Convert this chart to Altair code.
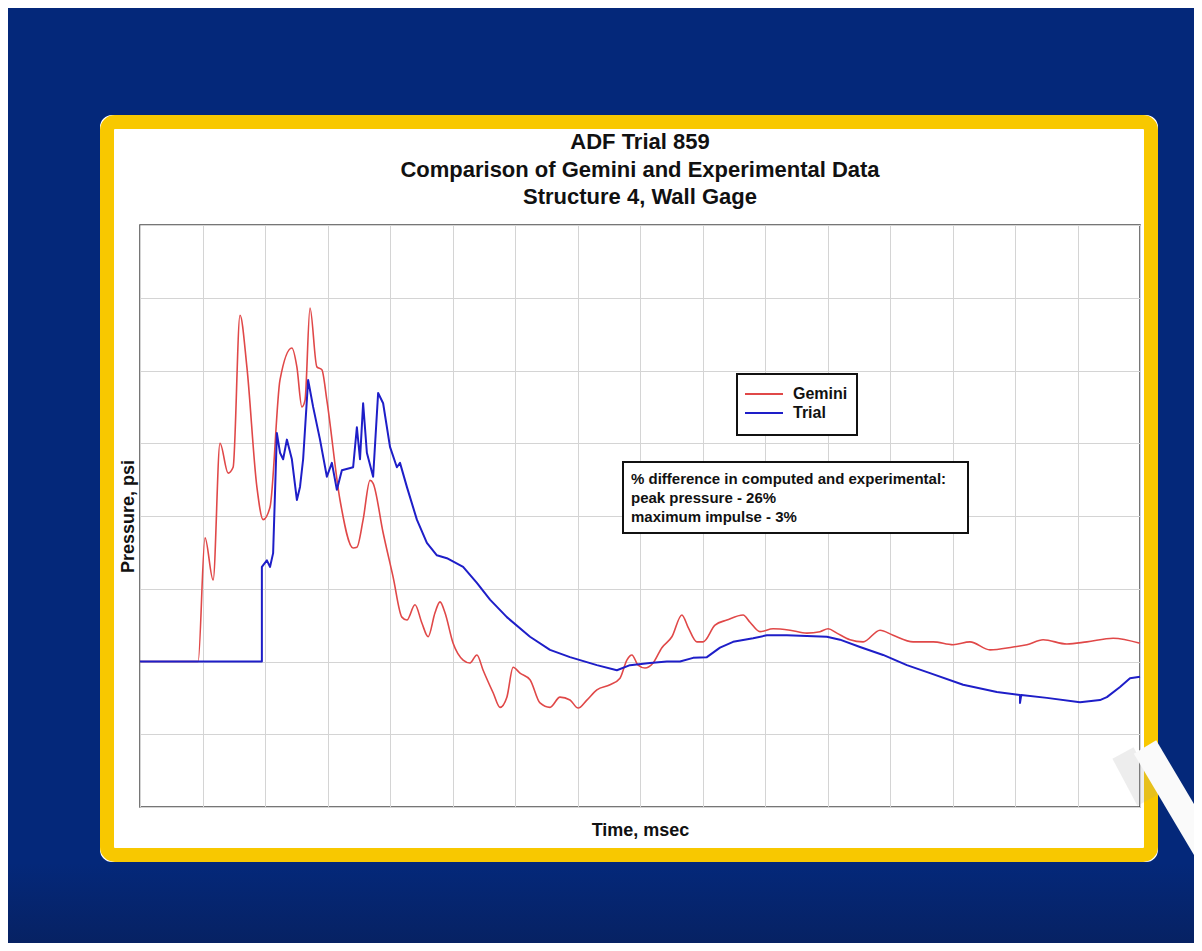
import altair as alt
import pandas as pd

# ---------------- data ----------------
gemini_t = [0, 0.93, 1.04, 1.17, 1.28, 1.41, 1.49, 1.6, 1.71, 1.87, 1.97, 2.08, 2.24, 2.43, 2.51,
            2.59, 2.64, 2.72, 2.83, 2.91, 2.99, 3.2, 3.41, 3.47, 3.57, 3.68, 3.73, 3.89, 4.05, 4.19,
            4.27, 4.4, 4.51, 4.61, 4.72, 4.8, 4.88, 5.01, 5.17, 5.28, 5.39, 5.49, 5.65, 5.76, 5.87,
            5.97, 6.08, 6.24, 6.4, 6.56, 6.72, 6.88, 7.01, 7.15, 7.31, 7.52, 7.68, 7.79, 7.87, 7.97,
            8.08, 8.21, 8.35, 8.51, 8.67, 8.77, 8.91, 9.01, 9.2, 9.39, 9.65, 9.76, 9.92, 10.13, 10.4,
            10.67, 10.88, 11.01, 11.15, 11.36, 11.57, 11.84, 12.05, 12.37, 12.69, 13.01, 13.28, 13.6,
            13.97, 14.19, 14.45, 14.83, 15.15, 15.57, 16]
gemini_p = [0, 0, 1.70, 1.12, 3.00, 2.59, 2.67, 4.76, 4.05, 2.40, 1.95, 2.12, 3.87, 4.31, 4.05,
            3.50, 3.59, 4.86, 4.05, 4.01, 3.59, 2.22, 1.56, 1.57, 1.95, 2.49, 2.45, 1.77, 1.16, 0.61,
            0.57, 0.78, 0.53, 0.34, 0.67, 0.82, 0.67, 0.25, 0.02, -0.02, 0.09, -0.12, -0.43, -0.63, -0.49,
            -0.08, -0.16, -0.25, -0.57, -0.63, -0.49, -0.53, -0.64, -0.53, -0.39, -0.32, -0.23, 0.02, 0.09, -0.05,
            -0.09, -0.02, 0.19, 0.34, 0.64, 0.47, 0.27, 0.27, 0.50, 0.57, 0.64, 0.54, 0.41, 0.45, 0.43,
            0.39, 0.41, 0.45, 0.39, 0.30, 0.27, 0.43, 0.36, 0.27, 0.27, 0.23, 0.27, 0.16,
            0.20, 0.23, 0.30, 0.24, 0.27, 0.32, 0.25]

trial_t = [0, 1.95, 1.95, 2.03, 2.08, 2.13, 2.19, 2.24, 2.29, 2.35, 2.43, 2.51, 2.56, 2.61, 2.69,
           2.77, 2.88, 2.99, 3.07, 3.15, 3.23, 3.41, 3.47, 3.52, 3.57, 3.63, 3.73, 3.81, 3.89, 4.0,
           4.11, 4.16, 4.27, 4.43, 4.59, 4.75, 4.91, 5.17, 5.39, 5.6, 5.87, 6.24, 6.56, 6.88, 7.31,
           7.63, 7.84, 8.16, 8.43, 8.64, 8.85, 9.07, 9.28, 9.49, 9.81, 10.03, 10.35, 10.67, 10.99, 11.2,
           11.52, 11.89, 12.27, 12.64, 13.17, 13.71, 14.08, 14.08, 14.1, 14.51, 15.04, 15.36, 15.47, 15.68,
           15.84, 16]
trial_p = [0, 0, 1.30, 1.39, 1.30, 1.49, 3.14, 2.87, 2.78, 3.05, 2.78, 2.22, 2.40, 2.78, 3.87,
           3.50, 3.05, 2.54, 2.73, 2.36, 2.63, 2.67, 3.22, 2.78, 3.55, 2.87, 2.54, 3.69, 3.55, 2.95,
           2.67, 2.73, 2.40, 1.95, 1.63, 1.46, 1.42, 1.30, 1.08, 0.85, 0.61, 0.34, 0.16, 0.06, -0.05,
           -0.12, -0.05, -0.02, 0, 0, 0.05, 0.06, 0.19, 0.27, 0.32, 0.36, 0.36, 0.35, 0.34, 0.30,
           0.20, 0.09, -0.05, -0.16, -0.32, -0.42, -0.46, -0.57, -0.46, -0.50, -0.56, -0.53, -0.49, -0.35,
           -0.23, -0.21]

series_names = ["Gemini", "Trial"]
series_colors = ["#e04848", "#1e1ec8"]
series_widths = [1.6, 2.0]

title_lines = ["ADF Trial 859", "Comparison of Gemini and Experimental Data", "Structure 4, Wall Gage"]
note_lines = ["% difference in computed and experimental:", "peak pressure - 26%", "maximum impulse - 3%"]
x_title = "Time, msec"
y_title = "Pressure, psi"
x_grid = list(range(0, 17))
y_grid = list(range(-2, 7))

# ---------------- layout ----------------
W, H = 1000, 582
FONT = "Liberation Sans"
NAVY = "#04287a"
YELLOW = "#f8c800"

gem_df = pd.DataFrame({"t": gemini_t, "p": gemini_p, "i": range(len(gemini_t))})
tri_df = pd.DataFrame({"t": trial_t, "p": trial_p, "i": range(len(trial_t))})

x_enc = alt.X("t:Q", scale=alt.Scale(domain=[0, 16], nice=False, zero=False),
              axis=alt.Axis(values=x_grid, labels=False, ticks=False, domain=False, grid=True,
                            gridColor="#d4d4d4", gridWidth=1, title=x_title, titleFont=FONT,
                            titleFontSize=18, titleFontWeight="bold", titleColor="#111",
                            titlePadding=14))
y_enc = alt.Y("p:Q", scale=alt.Scale(domain=[-2, 6], nice=False, zero=False),
              axis=alt.Axis(values=y_grid, labels=False, ticks=False, domain=False, grid=True,
                            gridColor="#d4d4d4", gridWidth=1, title=y_title, titleFont=FONT,
                            titleFontSize=18, titleFontWeight="bold", titleColor="#111",
                            titlePadding=3))

line_gem = alt.Chart(gem_df).mark_line(color=series_colors[0], strokeWidth=series_widths[0],
                                       interpolate="monotone").encode(x=x_enc, y=y_enc, order="i:Q")
line_tri = alt.Chart(tri_df).mark_line(color=series_colors[1], strokeWidth=series_widths[1],
                                       strokeJoin="round").encode(x=x_enc, y=y_enc, order="i:Q")


def one():
    return pd.DataFrame({"k": [0]})


def rect(x, x2, y, y2, **kw):
    return alt.Chart(one()).mark_rect(**kw).encode(
        x=alt.value(x), x2=alt.value(x2), y=alt.value(y), y2=alt.value(y2))


def rule(x, x2, y, y2, **kw):
    return alt.Chart(one()).mark_rule(**kw).encode(
        x=alt.value(x), x2=alt.value(x2), y=alt.value(y), y2=alt.value(y2))


def text(s, x, y, **kw):
    return alt.Chart(one()).mark_text(text=s, font=FONT, fontWeight="bold", color="#111", **kw).encode(
        x=alt.value(x), y=alt.value(y))


# navy surround (thick stroked rounded rect whose inner edge is the frame's outer edge)
navy_ring = rect(-290, 1268, -360, 887, fillOpacity=0, stroke=NAVY, strokeWidth=500, cornerRadius=262)
bottom_shade = rect(-140, 1070, 638, 730, fill=alt.LinearGradient(
    gradient="linear", x1=0, x2=0, y1=0, y2=1,
    stops=[alt.GradientStop(color=NAVY, offset=0), alt.GradientStop(color="#072160", offset=1)]),
    strokeWidth=0)
frame = rect(-33, 1011, -103, 630, fillOpacity=0, stroke=YELLOW, strokeWidth=14, cornerRadius=8)

title_marks = [text(title_lines[k], 500, yy, fontSize=22, align="center", baseline="middle")
               for k, yy in enumerate([-83, -55, -28])]

legend_box = rect(597, 717, 149, 210, fill="white", stroke="#111", strokeWidth=2)
legend_g = rule(605, 643, 169, 169, color=series_colors[0], strokeWidth=2)
legend_t = rule(605, 643, 188, 188, color=series_colors[1], strokeWidth=2)
legend_g_lbl = text(series_names[0], 653, 169, fontSize=16, align="left", baseline="middle")
legend_t_lbl = text(series_names[1], 653, 188, fontSize=16, align="left", baseline="middle")

note_box = rect(483, 828, 237, 308, fill="white", stroke="#111", strokeWidth=2)
note_txt = alt.Chart(one()).mark_text(text=note_lines, font=FONT, fontWeight="bold", color="#111",
                                      fontSize=15, lineHeight=19, align="left", baseline="top").encode(
    x=alt.value(491), y=alt.value(247))

shadow = rule(983, 1008, 528, 575, color="#9a9a9a", opacity=0.18, strokeWidth=24, strokeCap="butt")
stripe = rule(1005, 1090, 522, 665, color="#fafafa", strokeWidth=26, strokeCap="butt")

chart = alt.layer(
    line_gem, line_tri, navy_ring, bottom_shade, frame, *title_marks,
    legend_box, legend_g, legend_t, legend_g_lbl, legend_t_lbl,
    note_box, note_txt, shadow, stripe,
).properties(
    width=W, height=H,
    autosize=alt.AutoSizeParams(type="none"),
    padding={"left": 132, "top": 217, "right": 54, "bottom": 136},
).configure(background="white").configure_view(stroke="#4a4a4a", strokeWidth=1.5)

chart.save("out.html", embed_options={"renderer": "svg", "actions": False})
